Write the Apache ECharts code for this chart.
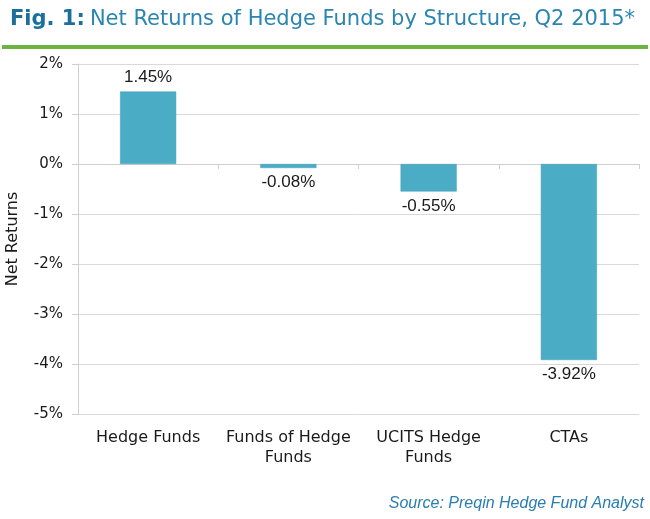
<!DOCTYPE html>
<html>
<head>
<meta charset="utf-8">
<script src="https://cdn.jsdelivr.net/npm/echarts@6/dist/echarts.min.js"></script>
<style>
  html, body { margin: 0; padding: 0; background: #fff; }
  #chart { width: 650px; height: 519px; }
</style>
</head>
<body>
<div id="chart"></div>
<script>
var categories = ['Hedge Funds', 'Funds of Hedge\nFunds', 'UCITS Hedge\nFunds', 'CTAs'];
var netReturns = [1.45, -0.08, -0.55, -3.92];
var yTicks = { min: -5, max: 2, interval: 1 };

var font = '"DejaVu Sans", sans-serif';

var chart = echarts.init(document.getElementById('chart'));

var option = {
  animation: false,
  backgroundColor: '#fff',
  title: {
    left: 5,
    top: 4,
    text: '{a|Fig. 1:} {b|Net Returns of Hedge Funds by Structure, Q2 2015*}',
    textStyle: {
      rich: {
        a: { fontFamily: font, fontSize: 21, fontWeight: 'bold', color: '#1b6f9b' },
        b: { fontFamily: font, fontSize: 21, fontWeight: 'normal', color: '#2a85b0' }
      }
    }
  },
  graphic: [
    {
      type: 'rect',
      shape: { x: 2, y: 45, width: 646, height: 4 },
      style: { fill: '#6cb33f' }
    },
    {
      type: 'text',
      right: 6,
      top: 496,
      style: {
        text: 'Source: Preqin Hedge Fund Analyst',
        font: 'italic 16px "Liberation Sans", Arial, sans-serif',
        fill: '#2a7db1'
      }
    }
  ],
  grid: { left: 78, right: 11, top: 64, bottom: 105, containLabel: false, outerBoundsMode: 'none' },
  xAxis: [
    {
      type: 'category',
      data: categories,
      position: 'bottom',
      axisLine: { show: false, onZero: false },
      axisTick: { show: false },
      axisLabel: {
        interval: 0,
        margin: 14,
        fontFamily: font,
        fontSize: 16,
        lineHeight: 20,
        color: '#1a1a1a'
      }
    },
    {
      type: 'category',
      data: categories,
      position: 'bottom',
      axisLine: { show: true, onZero: true, lineStyle: { color: '#cfcfcf', width: 1 } },
      axisTick: { show: true, length: 5, lineStyle: { color: '#cfcfcf' } },
      axisLabel: { show: false }
    }
  ],
  yAxis: {
    type: 'value',
    min: yTicks.min,
    max: yTicks.max,
    interval: yTicks.interval,
    name: 'Net Returns',
    nameLocation: 'middle',
    nameGap: 57,
    nameTextStyle: { fontFamily: font, fontSize: 16, color: '#1a1a1a' },
    axisLine: { show: true, lineStyle: { color: '#cfcfcf' } },
    axisTick: { show: true, length: 6, lineStyle: { color: '#cfcfcf' } },
    splitLine: { lineStyle: { color: '#d9d9d9' } },
    axisLabel: {
      margin: 15,
      fontFamily: font,
      fontSize: 15,
      color: '#1a1a1a',
      formatter: function (v) { return v + '%'; }
    }
  },
  series: [
    {
      type: 'bar',
      xAxisIndex: 0,
      data: netReturns.map(function (v) {
        return {
          value: v,
          label: { position: v >= 0 ? 'top' : 'bottom' }
        };
      }),
      barWidth: '40%',
      itemStyle: { color: '#4bacc6', borderColor: '#3f9db8', borderWidth: 0.5 },
      label: {
        show: true,
        distance: 6,
        fontFamily: '"Liberation Sans", Arial, sans-serif',
        fontSize: 17,
        color: '#1a1a1a',
        formatter: function (p) { return p.value.toFixed(2) + '%'; }
      }
    }
  ]
};

chart.setOption(option);
</script>
</body>
</html>
